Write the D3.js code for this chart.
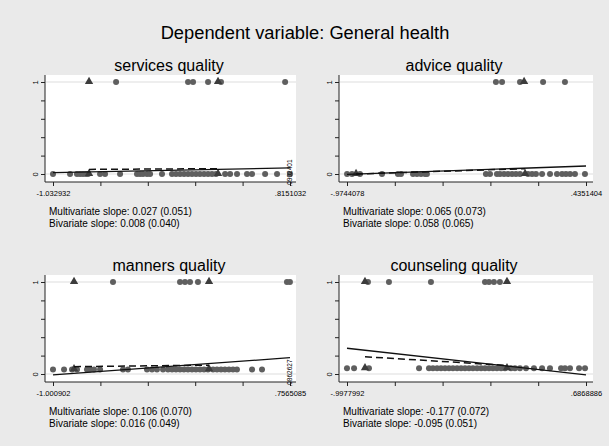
<!DOCTYPE html>
<html lang="en">
<head>
<meta charset="utf-8">
<title>Dependent variable: General health</title>
<script src="https://d3js.org/d3.v7.min.js"></script>
<style>
  body { margin: 0; background: #eaeaea; }
  svg { display: block; font-family: "Liberation Sans", Arial, sans-serif; }
</style>
</head>
<body>
<div id="chart"></div>
<script>
// panel order: services, advice, manners, counseling
const panelTitles = ["services quality", "advice quality", "manners quality", "counseling quality"];
const xMins = [-1.032932, -0.9744078, -1.000902, -0.9977992];
const xMaxs = [0.8151032, 0.4351404, 0.7565085, 0.6868886];
const xMinLabels = ["-1.032932", "-.9744078", "-1.000902", "-.9977992"];
const xMaxLabels = [".8151032", ".4351404", ".7565085", ".6868886"];
// height of the lower row of points (upper row sits at 1)
const lowRowY = [0, 0, 0.05, 0.062];

// circles on the upper row (y = 1)
const servicesHigh = [-0.541, 0.020, 0.059, 0.176, 0.277, 0.777];
const adviceHigh = [-0.096, -0.060, 0.046, 0.182, 0.311];
const mannersHigh = [-0.556, -0.059, -0.022, 0.015, 0.074, 0.734, 0.756];
const counselingHigh = [-0.850, -0.702, -0.406, -0.025, 0.003, 0.038, 0.080];

// circles on the lower row
const servicesLow = [-1.033, -0.900, -0.846, -0.822, -0.799, -0.775, -0.760, -0.666, -0.627, -0.510,
  -0.378, -0.354, -0.331, -0.300, -0.276, -0.183, -0.105, -0.074, -0.042, -0.011, 0.020, 0.051,
  0.082, 0.113, 0.145, 0.176, 0.207, 0.238, 0.309, 0.348, 0.402, 0.480, 0.519, 0.621, 0.714, 0.815];
const adviceLow = [-0.974, -0.945, -0.898, -0.768, -0.674, -0.656, -0.585, -0.562, -0.538, -0.514,
  -0.503, -0.155, -0.131, -0.090, -0.072, -0.048, -0.025, -0.001, 0.022, 0.046, 0.093, 0.117,
  0.140, 0.176, 0.223, 0.264, 0.294, 0.317, 0.341, 0.370, 0.429];
const mannersLow = [-1.001, -0.919, -0.860, -0.823, -0.749, -0.727, -0.697, -0.652, -0.482, -0.445,
  -0.304, -0.267, -0.230, -0.185, -0.148, -0.118, -0.089, -0.059, -0.030, 0.000, 0.030, 0.059,
  0.089, 0.119, 0.148, 0.186, 0.215, 0.245, 0.274, 0.304, 0.334, 0.363, 0.475, 0.549];
const counselingLow = [-0.998, -0.948, -0.843, -0.490, -0.420, -0.392, -0.363, -0.335, -0.307,
  -0.279, -0.251, -0.222, -0.194, -0.166, -0.138, -0.110, -0.081, -0.053, -0.025, 0.003, 0.031,
  0.059, 0.088, 0.116, 0.158, 0.186, 0.221, 0.264, 0.320, 0.377, 0.433, 0.511, 0.539, 0.574,
  0.638, 0.680];

// triangles on the upper and lower rows
const servicesTriHigh = [-0.752, 0.254], servicesTriLow = [-0.752, 0.254];
const adviceTriHigh = [0.070], adviceTriLow = [-0.921, 0.076];
const mannersTriHigh = [-0.845, 0.156], mannersTriLow = [-0.845, 0.156];
const counselingTriHigh = [-0.871, 0.130], counselingTriLow = [-0.871, 0.130];

// fitted lines: y at the start and end of their x span
const multiFit = [[0.015, 0.066], [-0.005, 0.087], [-0.01, 0.177], [0.28, -0.01]];
const biFit = [[0.05, 0.058], [0.0, 0.058], [0.08, 0.096], [0.188, 0.093]];

const multiText = ["0.027 (0.051)", "0.065 (0.073)", "0.106 (0.070)", "-0.177 (0.072)"];
const biText = ["0.008 (0.040)", "0.058 (0.065)", "0.016 (0.049)", "-0.095 (0.051)"];
const cornerLabels = [".0902401", null, ".0862627", null];

const highs = [servicesHigh, adviceHigh, mannersHigh, counselingHigh];
const lows = [servicesLow, adviceLow, mannersLow, counselingLow];
const trisHigh = [servicesTriHigh, adviceTriHigh, mannersTriHigh, counselingTriHigh];
const trisLow = [servicesTriLow, adviceTriLow, mannersTriLow, counselingTriLow];

const width = 609, height = 446;
const svg = d3.select("#chart").append("svg")
  .attr("width", width).attr("height", height);

svg.append("rect").attr("width", width).attr("height", height).attr("fill", "#eaeaea");

svg.append("text")
  .attr("x", 305).attr("y", 39)
  .attr("text-anchor", "middle")
  .attr("font-size", 18.3)
  .text("Dependent variable: General health");

const colLeft = [45, 339], colRight = [296, 593];
const colRange = [[53, 290], [347, 586]];
const titleX = [169, 454];
const rowTop = [75, 275];

panelTitles.forEach((title, i) => {
  const col = i % 2, row = Math.floor(i / 2);
  const left = colLeft[col], right = colRight[col];
  const top = rowTop[row], bottom = top + 107;

  const x = d3.scaleLinear().domain([xMins[i], xMaxs[i]]).range(colRange[col]);
  const y = d3.scaleLinear().domain([0, 1]).range([top + 99, top + 7]);

  const g = svg.append("g");

  g.append("text")
    .attr("x", titleX[col]).attr("y", top - 4)
    .attr("text-anchor", "middle")
    .attr("font-size", 16)
    .text(title);

  g.append("rect")
    .attr("x", left).attr("y", top)
    .attr("width", right - left).attr("height", bottom - top)
    .attr("fill", "white");

  // gridlines at 0 and 1
  g.selectAll(".grid").data([0, 1]).join("line")
    .attr("x1", left + 1).attr("x2", right)
    .attr("y1", d => y(d)).attr("y2", d => y(d))
    .attr("stroke", "#dedede").attr("stroke-width", 1.2);

  // y axis
  const yAxis = g.append("g").attr("transform", `translate(${left},0)`)
    .call(d3.axisLeft(y).tickValues(d3.range(0, 1.01, 0.2)).tickSize(4)
      .tickFormat(d => (Math.abs(d) < 1e-9 ? "0" : Math.abs(d - 1) < 1e-9 ? "1" : "")));
  yAxis.select(".domain").attr("d", `M0,${top}V${bottom}`).attr("stroke", "#222");
  yAxis.selectAll(".tick line").attr("stroke", "#222");
  yAxis.selectAll(".tick text")
    .attr("font-size", 7.5).attr("font-family", null)
    .attr("x", null).attr("dy", null)
    .attr("text-anchor", "middle")
    .attr("transform", "translate(-7,0) rotate(-90)")
    .attr("y", 0).attr("dy", "0em");

  // x axis
  const xTicks = d3.range(6).map(k => xMins[i] + k * (xMaxs[i] - xMins[i]) / 5);
  const xAxis = g.append("g").attr("transform", `translate(0,${bottom})`)
    .call(d3.axisBottom(x).tickValues(xTicks).tickSize(4)
      .tickFormat((d, k) => (k === 0 ? xMinLabels[i] : k === 5 ? xMaxLabels[i] : "")));
  xAxis.select(".domain").attr("d", `M${left},0H${right}`).attr("stroke", "#222");
  xAxis.selectAll(".tick line").attr("stroke", "#222");
  xAxis.selectAll(".tick text").attr("font-size", 7.5).attr("font-family", null).attr("y", 9);

  // markers
  g.selectAll(".hi").data(highs[i]).join("circle")
    .attr("cx", d => x(d)).attr("cy", y(1)).attr("r", 3)
    .attr("fill", "#5f5f5f");
  g.selectAll(".lo").data(lows[i]).join("circle")
    .attr("cx", d => x(d)).attr("cy", y(lowRowY[i])).attr("r", 3)
    .attr("fill", "#5f5f5f");
  const tri = d3.symbol().type(d3.symbolTriangle).size(30);
  const triPts = trisHigh[i].map(d => [d, 1]).concat(trisLow[i].map(d => [d, lowRowY[i]]));
  g.selectAll(".tri").data(triPts).join("path")
    .attr("d", tri)
    .attr("transform", d => `translate(${x(d[0])},${y(d[1]) - 0.5})`)
    .attr("fill", "#3c3c3c");

  // fitted lines
  const triXs = trisHigh[i].concat(trisLow[i]);
  const multiLine = [[xMins[i], multiFit[i][0]], [xMaxs[i], multiFit[i][1]]];
  const biLine = [[d3.min(triXs), biFit[i][0]], [d3.max(triXs), biFit[i][1]]];
  const line = d3.line().x(d => x(d[0])).y(d => y(d[1]));
  g.append("path").attr("d", line(biLine))
    .attr("fill", "none").attr("stroke", "#111").attr("stroke-width", 1.5)
    .attr("stroke-dasharray", "7,4");
  g.append("path").attr("d", line(multiLine))
    .attr("fill", "none").attr("stroke", "#111").attr("stroke-width", 1.3);

  if (cornerLabels[i]) {
    g.append("text")
      .attr("transform", `translate(${x(xMaxs[i]) + 2},${y(0) - 1}) rotate(-90)`)
      .attr("text-anchor", "middle")
      .attr("font-size", 6.5)
      .text(cornerLabels[i]);
  }

  g.append("text")
    .attr("x", left + 4).attr("y", bottom + 33)
    .attr("font-size", 10)
    .text("Multivariate slope: " + multiText[i]);
  g.append("text")
    .attr("x", left + 4).attr("y", bottom + 45)
    .attr("font-size", 10)
    .text("Bivariate slope: " + biText[i]);
});
</script>
</body>
</html>
